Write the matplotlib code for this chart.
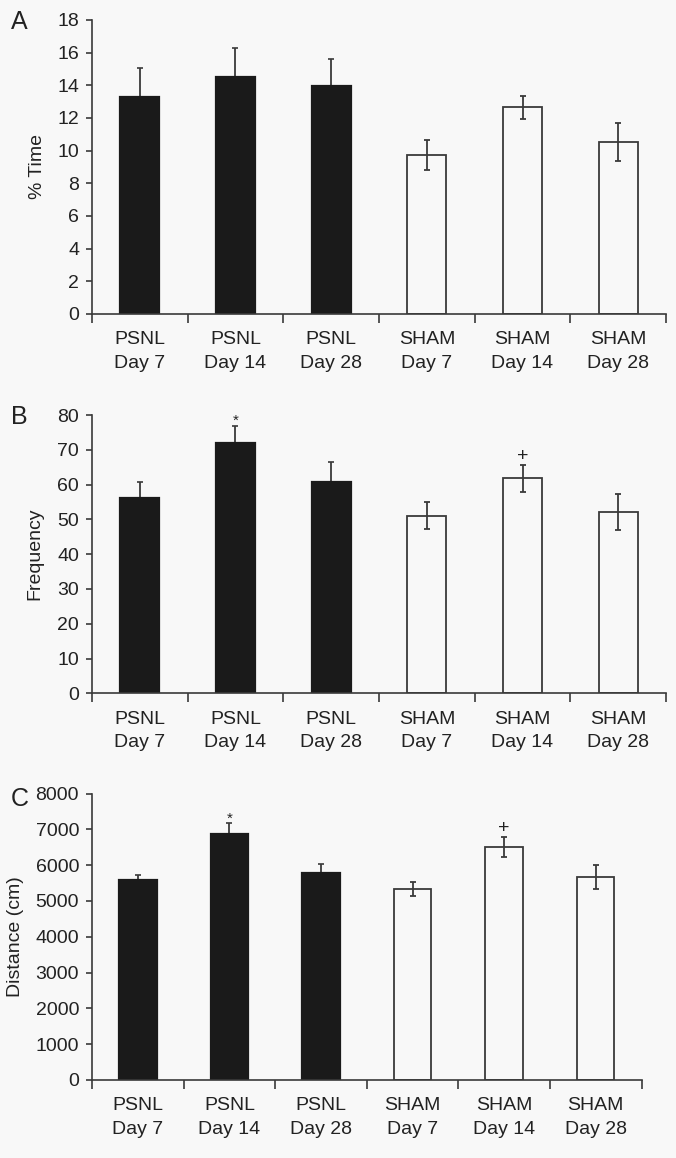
import matplotlib
matplotlib.use("Agg")
import matplotlib.pyplot as plt

plt.rcParams['font.family'] = ['Liberation Sans', 'DejaVu Sans']

# ---- data ----
categories = ["PSNL\nDay 7", "PSNL\nDay 14", "PSNL\nDay 28",
              "SHAM\nDay 7", "SHAM\nDay 14", "SHAM\nDay 28"]
groups = ["PSNL", "PSNL", "PSNL", "SHAM", "SHAM", "SHAM"]

time_mean = [13.27, 14.53, 13.96, 9.73, 12.65, 10.53]
time_err = [1.77, 1.77, 1.65, 0.91, 0.72, 1.14]

freq_mean = [56.0, 72.0, 60.8, 51.0, 61.8, 52.2]
freq_err = [4.6, 4.85, 5.75, 3.9, 3.9, 5.2]

dist_mean = [5575, 6872, 5771, 5323, 6509, 5670]
dist_err = [160, 300, 250, 195, 280, 340]

time_ticks = list(range(0, 19, 2))
freq_ticks = list(range(0, 81, 10))
dist_ticks = list(range(0, 8001, 1000))

# ---- style ----
BG = "#f8f8f8"
DARK = "#1a1a1a"
LINE = "#3a3a3a"
TXT = "#222222"
W, H = 676, 1158

fig = plt.figure(figsize=(W / 100, H / 100), dpi=100, facecolor=BG)


def px_axes(left, right, top, bottom):
    return fig.add_axes([left / W, 1 - bottom / H, (right - left) / W, (bottom - top) / H])


def draw_panel(ax, means, errs, ticks, ylabel, ylabel_x, letter, letter_y, marks=None):
    n = len(means)
    xs = list(range(n))
    ax.set_facecolor(BG)
    for x, m, e, g in zip(xs, means, errs, groups):
        if g == "PSNL":
            ax.errorbar([x], [m], yerr=[[0], [e]], fmt="none", ecolor=LINE,
                        elinewidth=1.3, capsize=2.5, capthick=1.2, zorder=1)
            ax.bar(x, m, width=0.41, color=DARK, edgecolor=DARK, linewidth=1.6, zorder=2)
        else:
            ax.bar(x, m, width=0.41, color=BG, edgecolor=LINE, linewidth=1.3, zorder=2)
            ax.errorbar([x], [m], yerr=[[e], [e]], fmt="none", ecolor=LINE,
                        elinewidth=1.3, capsize=2.5, capthick=1.3, zorder=3)
    ax.set_xlim(-0.5, n - 0.5)
    ax.set_ylim(ticks[0], ticks[-1])
    ax.set_yticks(ticks)
    ax.set_yticklabels([str(t) for t in ticks])
    ax.set_xticks([i - 0.5 for i in range(n + 1)])
    ax.set_xticklabels([])
    ax.set_xticks(xs, minor=True)
    ax.set_xticklabels(categories, minor=True, linespacing=1.5)
    ax.tick_params(axis="x", which="major", direction="out", length=6.5, width=1.2, color=LINE)
    ax.tick_params(axis="x", which="minor", length=0, pad=12.5, labelsize=14, labelcolor=TXT)
    ax.tick_params(axis="y", direction="out", length=4.3, width=1.2, color=LINE, pad=5,
                   labelsize=14, labelcolor=TXT)
    for s in ("top", "right"):
        ax.spines[s].set_visible(False)
    for s in ("left", "bottom"):
        ax.spines[s].set_color(LINE)
        ax.spines[s].set_linewidth(1.2)
    bb = ax.get_position()
    fig.text(ylabel_x / W, (bb.y0 + bb.y1) / 2, ylabel, rotation=90, ha="center",
             va="center", fontsize=14, color=TXT)
    fig.text(11 / W, 1 - letter_y / H, letter, ha="left", va="baseline",
             fontsize=18, color=TXT)
    if marks:
        for idx, sym in marks:
            top = means[idx] + errs[idx]
            if sym == "*":
                ax.annotate(sym, (idx, top), xytext=(0, 0.5), textcoords="offset points",
                            ha="center", va="baseline", fontsize=11, color=TXT)
            else:
                ax.annotate(sym, (idx, top), xytext=(0, 3), textcoords="offset points",
                            ha="center", va="baseline", fontsize=14, color=TXT)


axA = px_axes(92, 666, 20, 314)
draw_panel(axA, time_mean, time_err, time_ticks, "% Time", 37, "A", 29)

axB = px_axes(92, 666, 415, 693.3)
draw_panel(axB, freq_mean, freq_err, freq_ticks, "Frequency", 35, "B", 424,
           marks=[(1, "*"), (4, "+")])

axC = px_axes(92, 641.5, 793.5, 1080)
draw_panel(axC, dist_mean, dist_err, dist_ticks, "Distance (cm)", 16, "C", 806,
           marks=[(1, "*"), (4, "+")])

fig.savefig("out.png", dpi=100, facecolor=BG)
